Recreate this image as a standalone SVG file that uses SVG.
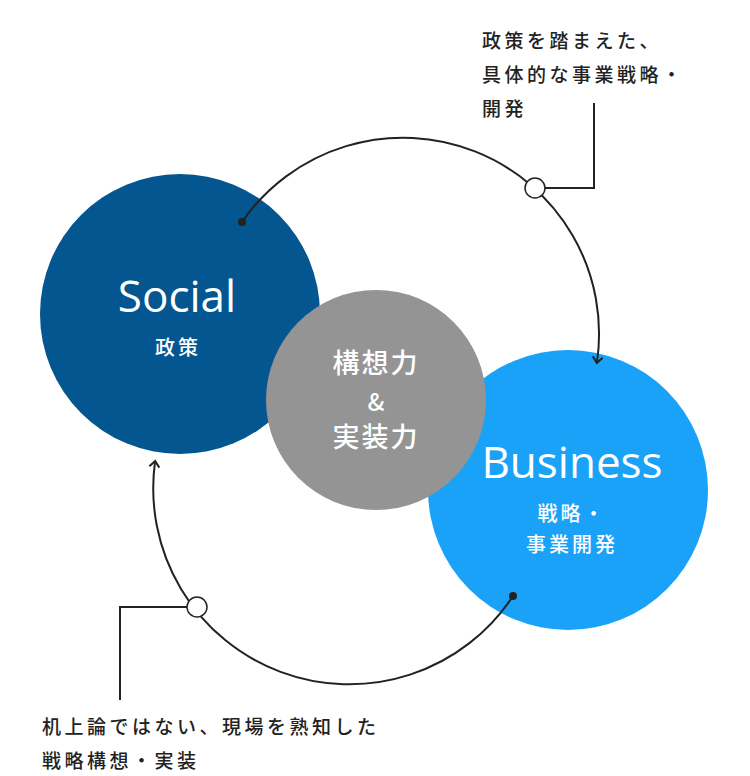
<svg xmlns="http://www.w3.org/2000/svg" width="750" height="776" viewBox="0 0 750 776">
<style>
.t{font-family:"Noto Sans CJK JP","Noto Sans",sans-serif;font-size:19px;fill:#222;font-weight:500;letter-spacing:3.5px}
.w{fill:#fff;text-anchor:middle;font-family:"Noto Sans CJK JP","Noto Sans",sans-serif;font-weight:500}
.en{font-family:"Open Sans","Noto Sans",sans-serif;font-size:44px;font-weight:400}
.ln{fill:none;stroke:#222;stroke-width:2}
</style>
<defs><marker id="a" viewBox="0 0 12 12" refX="6" refY="6" markerWidth="12" markerHeight="12" markerUnits="userSpaceOnUse" orient="auto"><path d="M1,1 L7,6 L1,11" fill="none" stroke="#222" stroke-width="2"/></marker></defs>
<g id="social"><circle cx="180" cy="314" r="140" fill="#03568f"/><text class="w en" x="177" y="312">Social</text><text class="w" x="178" y="355" font-size="20" letter-spacing="3">政策</text></g>
<g id="business"><circle cx="568" cy="490" r="140" fill="#1aa1f8"/><text class="w en" x="572" y="478">Business</text><text class="w" x="572" y="521" font-size="20" letter-spacing="3">戦略・</text><text class="w" x="572" y="552" font-size="20" letter-spacing="3">事業開発</text></g>
<g id="center"><circle cx="376" cy="400" r="110" fill="#949494"/><text class="w" x="376" y="373" font-size="27" letter-spacing="2">構想力</text><text class="w" x="376" y="411" font-size="24">&amp;</text><text class="w" x="376" y="447" font-size="27" letter-spacing="2">実装力</text></g>
<g id="connectors">
<path class="ln" d="M242,222 A196,196 0 0 1 597,362" marker-end="url(#a)"/>
<circle cx="242" cy="222" r="4" fill="#222"/>
<path class="ln" d="M513,596 A196,196 0 0 1 155,462" marker-end="url(#a)"/>
<circle cx="513" cy="596" r="4" fill="#222"/>
<path class="ln" d="M535,188 H594 V103"/>
<path class="ln" d="M197,607 H120 V700"/>
<circle cx="535" cy="188" r="10" fill="#fff" stroke="#222" stroke-width="1.5"/>
<circle cx="197" cy="607" r="10" fill="#fff" stroke="#222" stroke-width="1.5"/>
</g>
<g id="labels">
<text class="t" x="482" y="48">政策を踏まえた、</text>
<text class="t" x="482" y="82">具体的な事業戦略・</text>
<text class="t" x="482" y="116">開発</text>
<text class="t" x="42" y="734">机上論ではない、現場を熟知した</text>
<text class="t" x="42" y="768">戦略構想・実装</text>
</g>
</svg>
